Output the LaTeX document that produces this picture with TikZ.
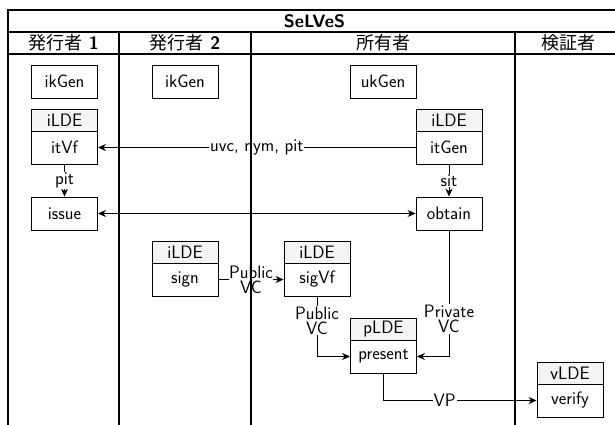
\documentclass[tikz,border=0pt]{standalone}
\usepackage{fontspec}
\newfontfamily\jp{Noto Sans CJK JP}
\usetikzlibrary{arrows.meta}
\begin{document}
\begin{tikzpicture}[x=1pt,y=-1pt,
  every node/.style={font=\sffamily\fontsize{18}{15}\selectfont},
  box/.style={draw,line width=0.9pt,minimum width=66pt,minimum height=33pt,inner sep=0pt},
  ldehead/.style={draw,line width=0.9pt,fill=gray!9,minimum width=66pt,minimum height=22pt,inner sep=0pt},
  conn/.style={line width=0.9pt,-{Stealth[length=8pt,width=7pt]}},
  lbl/.style={fill=white,inner sep=1pt,align=center},
  lane/.style={line width=1.1pt},
  hdr/.style={font=\sffamily\bfseries\fontsize{18}{20}\selectfont}]
\useasboundingbox (0,0) rectangle (615,425);
\clip (0,0) rectangle (615,425);
% boxes
\node[box] (ikgen1) at (64.5,81.5) {ikGen};
\node[box] (ikgen2) at (185,81.5) {ikGen};
\node[box] (ukgen) at (383,81.5) {ukGen};
\node[ldehead] (itvfh) at (64.5,120) {iLDE};
\node[box] (itvf) at (64.5,147.5) {itVf};
\node[ldehead] (itgenh) at (449,120) {iLDE};
\node[box] (itgen) at (449,147.5) {itGen};
\node[box] (issue) at (64.5,213.5) {issue};
\node[box] (obtain) at (449,213.5) {obtain};
\node[ldehead] (signh) at (185,252.5) {iLDE};
\node[box] (sign) at (185,279.5) {sign};
\node[ldehead] (sigvfh) at (317,252.5) {iLDE};
\node[box] (sigvf) at (317,279.5) {sigVf};
\node[ldehead] (presenth) at (383.5,329) {pLDE};
\node[box] (present) at (383.5,356.5) {present};
\node[ldehead] (verifyh) at (570,373.5) {vLDE};
\node[box] (verify) at (570,400.5) {verify};
% connectors
\draw[conn] (itgen.west) -- node[lbl] {uvc, nym, pit} (itvf.east);
\draw[conn] (itvf.south) -- node[lbl] {pit} (issue.north);
\draw[conn] (itgen.south) -- node[lbl] {sit} (obtain.north);
\draw[line width=0.9pt,{Stealth[length=8pt,width=7pt]}-{Stealth[length=8pt,width=7pt]}] (issue.east) -- (obtain.west);
\draw[conn] (sign.east) -- node[lbl,inner sep=0.5pt] {Public\\VC} (sigvf.west);
\draw[conn] (sigvf.south) |- node[lbl,pos=0.2] {Public\\VC} (present.west);
\draw[conn] (obtain.south) |- node[lbl,pos=0.35] {Private\\VC} (present.east);
\draw[conn] (present.south) |- node[lbl,pos=0.7] {VP} (verify.west);
% swimlane table
\draw[lane] (8,10) rectangle (621,32);
\draw[lane] (8,32) rectangle (621,54);
\foreach \x in {8,119,251,515,621} \draw[lane] (\x,32) -- (\x,430);
\node[hdr] (title) at (314.5,21) {SeLVeS};
\node[hdr] (h1) at (63.5,43) {{\jp\mdseries 発行者} 1};
\node[hdr] (h2) at (185,43) {{\jp\mdseries 発行者} 2};
\node[hdr] (h3) at (383,43) {\jp\mdseries 所有者};
\node[hdr] (h4) at (568,43) {\jp\mdseries 検証者};
\end{tikzpicture}
\end{document}
